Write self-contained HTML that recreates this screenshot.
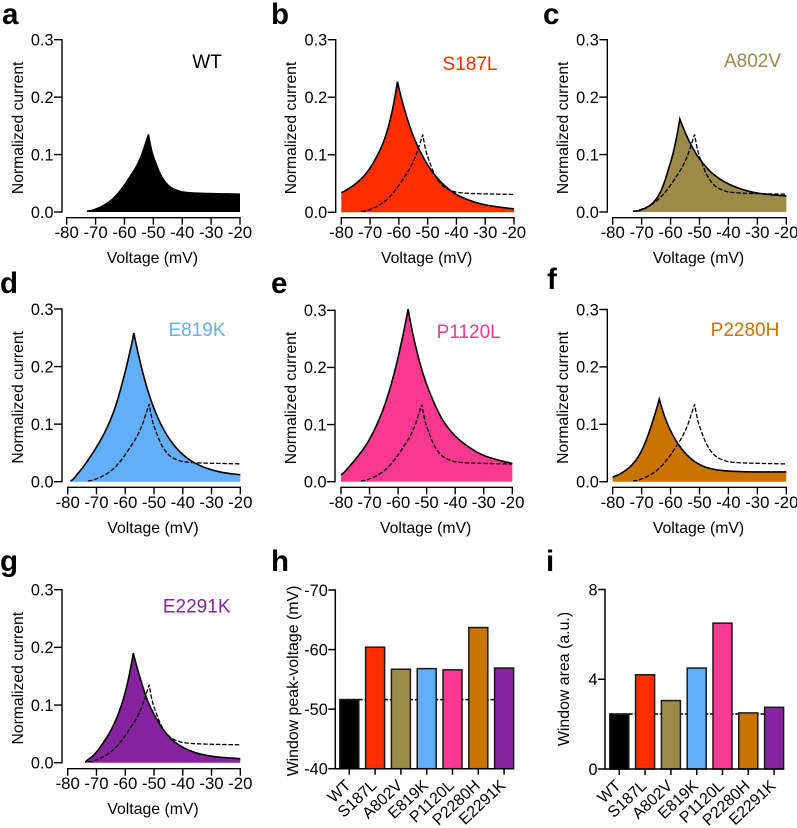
<!DOCTYPE html>
<html lang="en">
<head>
<meta charset="utf-8">
<title>Window current panels</title>
<style>
html,body{margin:0;padding:0;background:#fff;}
svg{display:block;font-family:"Liberation Sans",Arial,sans-serif;}
</style>
</head>
<body>
<svg id="fig" xmlns="http://www.w3.org/2000/svg" width="797" height="828" viewBox="0 0 797 828"></svg>
<script>
// ---- data ----
const xTicks = [-80, -70, -60, -50, -40, -30, -20];
const yTicks = [0, 0.1, 0.2, 0.3];
const yTickLabels = ['0.0', '0.1', '0.2', '0.3'];

const wtV = [-73, -72, -70, -67, -64, -61, -58, -56, -54, -52.8, -51.7, -50.5, -49, -47.5, -46, -44, -42, -40, -36, -30, -20];
const wtI = [0, 0.002, 0.005, 0.012, 0.023, 0.04, 0.062, 0.078, 0.1, 0.118, 0.135, 0.105, 0.083, 0.065, 0.053, 0.043, 0.038, 0.035, 0.033, 0.032, 0.031];

const s187lV = [-80, -76, -72, -68, -65, -62.5, -60.5, -58, -55, -52, -48, -44, -40, -35, -30, -25, -20];
const s187lI = [0.034, 0.046, 0.064, 0.094, 0.127, 0.172, 0.227, 0.178, 0.133, 0.1, 0.068, 0.046, 0.031, 0.02, 0.013, 0.009, 0.006];

const a802vV = [-73, -71.5, -70, -67, -64, -61, -59, -56.8, -54, -51, -48, -45, -40, -35, -30, -25, -20];
const a802vI = [0, 0.002, 0.004, 0.012, 0.03, 0.07, 0.105, 0.162, 0.128, 0.1, 0.08, 0.065, 0.049, 0.039, 0.033, 0.03, 0.028];

const e819kV = [-79, -78, -77, -76, -73, -70, -67, -64, -61, -59, -57, -55, -52, -49, -45, -41, -37, -32, -26, -20];
const e819kI = [0, 0.005, 0.011, 0.017, 0.037, 0.06, 0.087, 0.122, 0.172, 0.212, 0.258, 0.212, 0.156, 0.115, 0.077, 0.052, 0.036, 0.024, 0.016, 0.012];

const p1120lV = [-80, -77, -74, -71, -68, -65, -62, -59, -56.5, -54, -51, -48, -44, -40, -35, -30, -25, -20];
const p1120lI = [0.012, 0.027, 0.045, 0.066, 0.094, 0.13, 0.178, 0.24, 0.302, 0.24, 0.185, 0.145, 0.105, 0.08, 0.06, 0.046, 0.038, 0.032];

const p2280hV = [-80, -77, -74, -71, -68, -66, -63.9, -62, -60, -57, -54, -51, -47, -43, -38, -30, -20];
const p2280hI = [0.008, 0.015, 0.026, 0.045, 0.078, 0.108, 0.144, 0.113, 0.089, 0.063, 0.045, 0.033, 0.024, 0.02, 0.018, 0.017, 0.017];

const e2291kV = [-74, -73, -71, -68, -65, -62, -59.5, -57.2, -55, -52, -49, -46, -42, -38, -33, -28, -20];
const e2291kI = [0, 0.005, 0.013, 0.032, 0.056, 0.09, 0.132, 0.19, 0.15, 0.105, 0.075, 0.052, 0.033, 0.022, 0.014, 0.01, 0.007];

const barCategories = ['WT', 'S187L', 'A802V', 'E819K', 'P1120L', 'P2280H', 'E2291K'];
const peakVoltage = [-51.6, -60.4, -56.7, -56.8, -56.6, -63.7, -56.9];
const windowArea = [2.45, 4.2, 3.05, 4.5, 6.5, 2.5, 2.75];
const peakTicks = [-40, -50, -60, -70];
const areaTicks = [0, 4, 8];

// ---- layout & styles (not data) ----
const barColors = ['#000000', '#ff2e00', '#9c8a48', '#62aef7', '#f9388f', '#c97300', '#86249f'];
const linePanels = [
  {id:'a', name:'WT', V:wtV, I:wtI, color:barColors[0], x0:66.7, x1:240, yax:62, yT:39.7, yB:212, xax:217.7, lx:2, ly:24, tx:207, ty:68, overlay:false, ylx:23},
  {id:'b', name:'S187L', V:s187lV, I:s187lI, color:barColors[1], x0:341.3, x1:514, yax:335.7, yT:39.7, yB:212.3, xax:217.7, lx:271, ly:24, tx:470, ty:70, overlay:true, ylx:296},
  {id:'c', name:'A802V', V:a802vV, I:a802vI, color:barColors[2], x0:612.7, x1:786.3, yax:607.3, yT:39.7, yB:212, xax:217.7, lx:543, ly:24, tx:752.5, ty:67, overlay:true, ylx:568},
  {id:'d', name:'E819K', V:e819kV, I:e819kI, color:barColors[3], x0:67.7, x1:240.3, yax:62, yT:309, yB:481.7, xax:487.3, lx:0, ly:293, tx:197, ty:336, overlay:true, ylx:23},
  {id:'e', name:'P1120L', V:p1120lV, I:p1120lI, color:barColors[4], x0:341, x1:512.3, yax:335, yT:310.3, yB:481.7, xax:487.3, lx:271, ly:293, tx:468.7, ty:338, overlay:true, ylx:296},
  {id:'f', name:'P2280H', V:p2280hV, I:p2280hI, color:barColors[5], x0:612.7, x1:786.3, yax:607.3, yT:309.5, yB:481.7, xax:487.3, lx:547, ly:289, tx:745, ty:336, overlay:true, ylx:568},
  {id:'g', name:'E2291K', V:e2291kV, I:e2291kI, color:barColors[6], x0:67.7, x1:240.3, yax:62, yT:589.7, yB:762.7, xax:768.7, lx:0, ly:571, tx:196.7, ty:612.7, overlay:true, ylx:23}
];
const SVGNS = 'http://www.w3.org/2000/svg';
const fig = document.getElementById('fig');
const LOG_FLOOR = 0.0015;

function mk(tag, attrs, parent, text) {
  const el = document.createElementNS(SVGNS, tag);
  for (const k in attrs) el.setAttribute(k, attrs[k]);
  if (text !== undefined) el.textContent = text;
  (parent || fig).appendChild(el);
  return el;
}
function fmt(n) { return n.toFixed(2); }

// Monotone cubic through one branch of the curve, in log-current space, so the
// exponential flanks stay smooth and the peak stays sharp.
function branchPoints(V, I) {
  const ly = I.map(i => Math.log(Math.max(i, LOG_FLOOR)));
  const n = V.length;
  const d = [];
  for (let i = 0; i < n - 1; i++) d.push((ly[i + 1] - ly[i]) / (V[i + 1] - V[i]));
  const m = new Array(n);
  m[0] = d[0];
  m[n - 1] = d[n - 2];
  for (let i = 1; i < n - 1; i++) {
    if (d[i - 1] * d[i] <= 0) { m[i] = 0; continue; }
    const h0 = V[i] - V[i - 1], h1 = V[i + 1] - V[i];
    const w0 = 2 * h1 + h0, w1 = h1 + 2 * h0;
    m[i] = (w0 + w1) / (w0 / d[i - 1] + w1 / d[i]);
  }
  const out = [];
  for (let i = 0; i < n - 1; i++) {
    const h = V[i + 1] - V[i];
    for (let s = 0; s < 10; s++) {
      const t = s / 10, t2 = t * t, t3 = t2 * t;
      const y = (2 * t3 - 3 * t2 + 1) * ly[i] + (t3 - 2 * t2 + t) * h * m[i] +
                (-2 * t3 + 3 * t2) * ly[i + 1] + (t3 - t2) * h * m[i + 1];
      out.push([V[i] + t * h, Math.exp(y)]);
    }
  }
  out.push([V[n - 1], Math.max(I[n - 1], LOG_FLOOR)]);
  return out;
}
function curvePoints(V, I, sx, sy) {
  const k = I.indexOf(Math.max.apply(null, I));
  const left = branchPoints(V.slice(0, k + 1), I.slice(0, k + 1));
  const right = branchPoints(V.slice(k), I.slice(k));
  return left.concat(right.slice(1)).map(p => [sx(p[0]), sy(p[1])]);
}
function toPath(pts) {
  return 'M' + pts.map(p => fmt(p[0]) + ' ' + fmt(p[1])).join('L');
}

function drawLinePanel(p) {
  const sx = v => p.x0 + (v + 80) / 60 * (p.x1 - p.x0);
  const sy = i => p.yB - i / 0.3 * (p.yB - p.yT);
  const g = mk('g', {});
  
  

  const letter = mk('text', {x:p.lx, y:p.ly, 'font-size':29.5, 'font-weight':'bold', fill:'#000'}, g, p.id);
  
  

  // filled window
  const pts = curvePoints(p.V, p.I, sx, sy);
  const first = pts[0], last = pts[pts.length - 1];
  const area = mk('path', {d: toPath(pts) + 'L' + fmt(last[0]) + ' ' + fmt(p.yB) + 'L' + fmt(first[0]) + ' ' + fmt(p.yB) + 'Z', fill:p.color}, g);
  
  
  const line = mk('path', {d: toPath(pts), fill:'none', stroke:'#000', 'stroke-width':1.6, 'stroke-linejoin':'miter'}, g);
  
  

  if (p.overlay) {
    const wt = mk('path', {d: toPath(curvePoints(wtV, wtI, sx, sy)), fill:'none', stroke:'#000', 'stroke-width':1.3, 'stroke-dasharray':'4.5 1.8'}, g);
    
    
  }

  // y axis
  const yAxis = mk('g', {stroke:'#000', 'stroke-width':1.4, fill:'none'}, g);
  
  
  mk('line', {x1:p.yax, x2:p.yax, y1:sy(0.3) - 0.7, y2:sy(0) + 0.7}, yAxis);
  yTicks.forEach((t, i) => {
    mk('line', {x1:p.yax - 8, x2:p.yax, y1:sy(t), y2:sy(t)}, yAxis);
    const lab = mk('text', {x:p.yax - 8.5, y:sy(t) + 5.8, 'text-anchor':'end', 'font-size':16.3, fill:'#000', stroke:'none'}, yAxis, yTickLabels[i]);
    
    
  });
  const yTitle = mk('text', {transform:'translate(' + p.ylx + ' ' + ((p.yT + p.yB) / 2 + 2) + ') rotate(-90)', 'text-anchor':'middle', 'font-size':15.7, fill:'#000'}, g, 'Normalized current');
  
  

  // x axis
  const xAxis = mk('g', {stroke:'#000', 'stroke-width':1.4, fill:'none'}, g);
  
  
  mk('line', {x1:sx(-80) - 0.7, x2:sx(-20) + 0.7, y1:p.xax, y2:p.xax}, xAxis);
  xTicks.forEach(t => {
    mk('line', {x1:sx(t), x2:sx(t), y1:p.xax, y2:p.xax + 7}, xAxis);
    const lab = mk('text', {x:sx(t), y:p.xax + 20.5, 'text-anchor':'middle', 'font-size':16.8, fill:'#000', stroke:'none'}, xAxis, String(t));
    
    
  });
  const xTitle = mk('text', {x:(p.x0 + p.x1) / 2 - 1, y:p.xax + 45.5, 'text-anchor':'middle', 'font-size':15.8, fill:'#000'}, g, 'Voltage (mV)');
  
  

  const title = mk('text', {x:p.tx, y:p.ty, 'text-anchor':'middle', 'font-size':19, fill:p.color}, g, p.name);
  
  
}

function drawBarPanel(c) {
  const sy = v => c.yB - (v - c.vMin) / (c.vMax - c.vMin) * (c.yB - c.yT);
  const sx = i => c.x0 + i * c.step;
  const g = mk('g', {});
  
  

  const letter = mk('text', {x:c.lx, y:c.ly, 'font-size':29.5, 'font-weight':'bold', fill:'#000'}, g, c.id);
  
  

  const ref = mk('line', {x1:sx(0) - 10, x2:sx(c.values.length - 1) + 10, y1:sy(c.values[0]), y2:sy(c.values[0]), stroke:'#000', 'stroke-width':1.5, 'stroke-dasharray':'4.5 1.8'}, g);
  
  

  c.values.forEach((v, i) => {
    const top = sy(v);
    const bar = mk('rect', {x:sx(i) - 9.5, y:top, width:19, height:c.yB - top, fill:barColors[i], stroke:'#1a1a1a', 'stroke-width':1.5}, g);
    
    
  });

  const yAxis = mk('g', {stroke:'#000', 'stroke-width':1.5, fill:'none'}, g);
  
  
  mk('line', {x1:c.yax, x2:c.yax, y1:c.yT - 0.7, y2:c.yB + 0.7}, yAxis);
  c.ticks.forEach(t => {
    mk('line', {x1:c.yax - 7, x2:c.yax, y1:sy(t), y2:sy(t)}, yAxis);
    const lab = mk('text', {x:c.yax - 7.5, y:sy(t) + 5.8, 'text-anchor':'end', 'font-size':16.3, fill:'#000', stroke:'none'}, yAxis, String(t));
    
    
  });
  const yTitle = mk('text', {transform:'translate(' + c.ylx + ' ' + c.ylc + ') rotate(-90)', 'text-anchor':'middle', 'font-size':15.9, fill:'#000'}, g, c.yTitle);
  
  

  const xAxis = mk('g', {stroke:'#000', 'stroke-width':1.5, fill:'none'}, g);
  
  
  mk('line', {x1:c.yax, x2:c.xEnd, y1:c.yB, y2:c.yB}, xAxis);
  barCategories.forEach((cat, i) => {
    mk('line', {x1:sx(i), x2:sx(i), y1:c.yB, y2:c.yB + 6}, xAxis);
    const lab = mk('text', {transform:'translate(' + (sx(i) + 2.5) + ' ' + (c.yB + 18) + ') rotate(-43)', 'text-anchor':'end', 'font-size':16, fill:'#000', stroke:'none'}, xAxis, cat);
    
    
  });
}

linePanels.forEach(drawLinePanel);
drawBarPanel({id:'h', values:peakVoltage, ticks:peakTicks, vMin:-40, vMax:-70, yT:590, yB:768.7, yax:335.3, x0:349.3, step:25.8, xEnd:513.5, lx:271, ly:571, ylx:298, ylc:681, yTitle:'Window peak-voltage (mV)'});
drawBarPanel({id:'i', values:windowArea, ticks:areaTicks, vMin:0, vMax:8, yT:589.5, yB:769, yax:605, x0:619.3, step:25.8, xEnd:783.7, lx:546, ly:571, ylx:569, ylc:679, yTitle:'Window area (a.u.)'});
</script>
</body>
</html>
